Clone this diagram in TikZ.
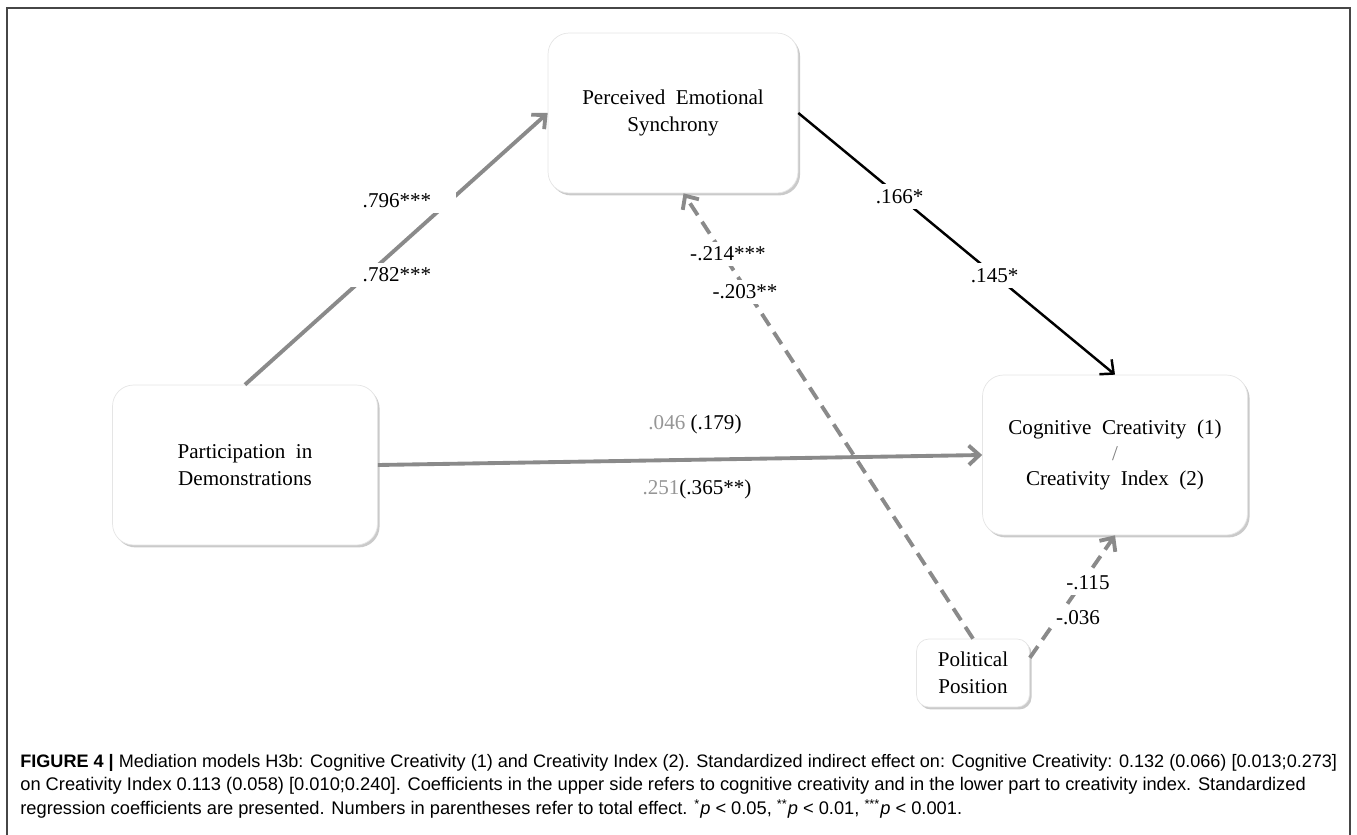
\documentclass[tikz,border=0pt]{standalone}
\usepackage{fontspec}
\setmainfont{Liberation Serif}
\newfontfamily\capfont{Liberation Sans}
\usetikzlibrary{arrows.meta,shadows,calc}

\definecolor{linegray}{RGB}{138,138,138}
\definecolor{coefgray}{RGB}{150,150,150}
\definecolor{framegray}{RGB}{70,70,70}

\tikzset{
  varbox/.style={draw=gray!20, fill=white, rounded corners=12pt, align=center,
    font=\fontsize{12}{15.5}\selectfont,
    drop shadow={shadow xshift=1.2pt, shadow yshift=-1.4pt, opacity=0.6, fill=gray!70}},
  coef/.style={fill=white, inner xsep=14pt, inner ysep=3pt, font=\fontsize{12}{14}\selectfont},
  barb/.style={-{Straight Barb[length=6pt,width=11pt]}},
  grayline/.style={barb, line width=2.2pt, draw=linegray},
  blackline/.style={barb, line width=1.4pt, draw=black},
  dashline/.style={barb, line width=2.2pt, draw=linegray, dash pattern=on 8pt off 4.5pt},
  capline/.style={anchor=west, inner sep=0pt, font=\capfont\fontsize{10.4}{12}\selectfont}
}

\begin{document}
\begin{tikzpicture}[x=0.02cm, y=-0.02cm]
  \useasboundingbox (0,0) rectangle (1357,835);
  % frame
  \draw[framegray, line width=0.9pt] (7,835) -- (7,8) -- (1350,8) -- (1350,835);

  % variables
  \node[varbox, minimum width=5.0cm, minimum height=3.2cm] (pes) at (673,113) {Perceived~ Emotional\\Synchrony};
  \node[varbox, minimum width=5.3cm, minimum height=3.2cm] (pid) at (245,465) {Participation~ in\\Demonstrations};
  \node[varbox, minimum width=5.3cm, minimum height=3.2cm] (cc) at (1115,455)
    {Cognitive~ Creativity~ (1)\\[-1pt]{\color{gray}/}\\[-1pt]Creativity~ Index~ (2)};
  \node[varbox, rounded corners=7pt, minimum width=2.26cm, minimum height=1.36cm, inner sep=2pt] (pp) at (973,673) {Political\\Position};

  % paths
  \draw[grayline] (pid.north) -- (pes.west);
  \draw[blackline] (pes.east) -- (cc.north)
    node[coef, pos=0.32] (b1) {.166*}
    node[coef, pos=0.62] (b2) {.145*};
  \draw[grayline] (pid.east) -- (cc.west);
  \draw[dashline] (pp.north) -- ([xshift=6pt]pes.south);
  \draw[dashline] (pp.15) -- (cc.south);

  % coefficients
  \node[coef] (a1) at (397,201) {.796***};
  \node[coef] (a2) at (397,275) {.782***};
  \node[coef, inner xsep=2pt] (d1) at (728,254) {-.214***};
  \node[coef, inner xsep=2pt] (d2) at (745,292) {-.203**};
  \node[coef, inner xsep=2pt] (e1) at (1088,583) {-.115};
  \node[coef, inner xsep=2pt] (e2) at (1078,618) {-.036};
  \node[coef, inner xsep=2pt] (c1) at (695,424) {{\color{coefgray}.046} (.179)};
  \node[coef, inner xsep=2pt] (c2) at (697,489) {{\color{coefgray}.251}(.365**)};

  % caption
  \node[capline] (cap1) at (20,763) {\resizebox{26.34cm}{!}{\textbf{FIGURE 4 |} Mediation models H3b: Cognitive Creativity (1) and Creativity Index (2). Standardized indirect effect on: Cognitive Creativity: 0.132 (0.066) [0.013;0.273]}};
  \node[capline] (cap2) at (20,786) {on Creativity Index 0.113 (0.058) [0.010;0.240]. Coefficients in the upper side refers to cognitive creativity and in the lower part to creativity index. Standardized};
  \node[capline] (cap3) at (20,809) {regression coefficients are presented. Numbers in parentheses refer to total effect. \textsuperscript{*}\textit{p} < 0.05, \textsuperscript{**}\textit{p} < 0.01, \textsuperscript{***}\textit{p} < 0.001.};
\end{tikzpicture}
\end{document}
